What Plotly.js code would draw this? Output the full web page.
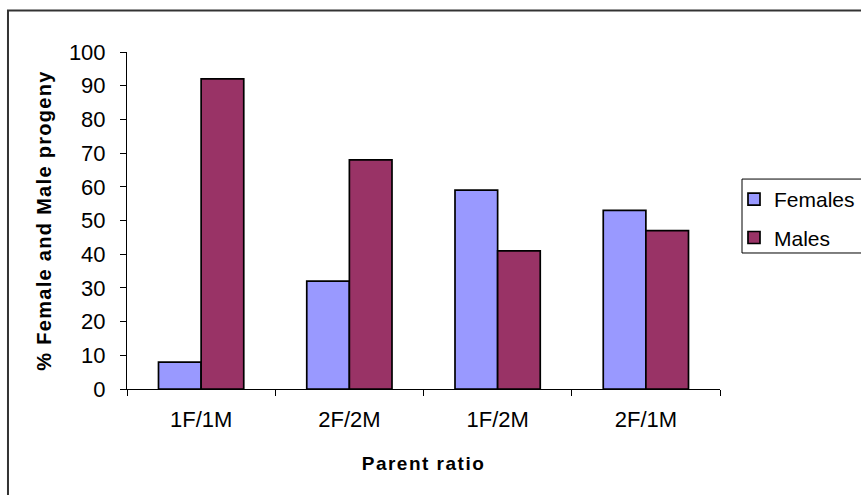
<!DOCTYPE html>
<html>
<head>
<meta charset="utf-8">
<script src="https://cdn.plot.ly/plotly-3.0.1.min.js"></script>
<style>
  html, body { margin: 0; padding: 0; background: #fff; }
  #chart { width: 861px; height: 495px; }
  /* slightly wider bold titles */
  #chart .g-xtitle text { letter-spacing: 1.5px; }
  #chart .g-ytitle text { letter-spacing: 1.3px; }
</style>
</head>
<body>
<div id="chart"></div>
<script>
// Offspring sex ratio by parent ratio
const categories = ["1F/1M", "2F/2M", "1F/2M", "2F/1M"];
const females = [8, 32, 59, 53];
const males = [92, 68, 41, 47];
const yTicks = [0, 10, 20, 30, 40, 50, 60, 70, 80, 90, 100];

const FONT = "Liberation Sans, Arial, sans-serif";

const traces = [
  {
    type: "bar",
    name: "Females",
    legendgroup: "f",
    x: categories,
    y: females,
    marker: { color: "#9999FF", line: { color: "#000", width: 1.7 } }
  },
  {
    type: "bar",
    name: "Males",
    legendgroup: "m",
    x: categories,
    y: males,
    marker: { color: "#993366", line: { color: "#000", width: 1.7 } }
  }
];

const layout = {
  width: 861,
  height: 495,
  margin: { l: 127, r: 141, t: 52, b: 106, pad: 0, autoexpand: false },
  paper_bgcolor: "#fff",
  plot_bgcolor: "#fff",
  font: { family: FONT, color: "#000", size: 22 },
  barmode: "group",
  bargap: 0.425,
  bargroupgap: 0,
  showlegend: true,
  legend: {
    x: 1.0236, y: 0.623, xanchor: "left", yanchor: "top",
    bgcolor: "rgba(0,0,0,0)", borderwidth: 0,
    font: { family: FONT, size: 21, color: "#000" },
    traceorder: "grouped",
    tracegroupgap: 8,
    itemwidth: 30
  },
  xaxis: {
    type: "category",
    showline: true, linecolor: "#000", linewidth: 1,
    ticks: "outside", tickson: "boundaries", ticklen: 6, tickcolor: "#000",
    ticklabelstandoff: 11,
    showgrid: false, zeroline: false,
    tickfont: { family: FONT, size: 22 },
    title: { text: "<b>Parent ratio</b>", font: { family: FONT, size: 19 }, standoff: 25 },
    automargin: false
  },
  yaxis: {
    range: [0, 100],
    tickvals: yTicks,
    showline: true, linecolor: "#000", linewidth: 1,
    ticks: "outside", ticklen: 6, tickcolor: "#000",
    ticklabelstandoff: 10,
    showgrid: false, zeroline: false,
    tickfont: { family: FONT, size: 22 },
    title: { text: "<b>% Female and Male progeny</b>", font: { family: FONT, size: 20 }, standoff: 11 },
    automargin: false
  },
  shapes: [
    // outer chart frame
    {
      type: "rect", xref: "paper", yref: "paper",
      x0: -0.2007, x1: 1.6, y0: -0.6, y1: 1.1231,
      line: { color: "#333", width: 2 }, fillcolor: "rgba(0,0,0,0)", layer: "below"
    },
    // legend frame
    {
      type: "rect", xref: "paper", yref: "paper",
      x0: 1.0371, x1: 1.6, y0: 0.4036, y1: 0.623,
      line: { color: "#000", width: 1 }, fillcolor: "#fff", layer: "above"
    }
  ]
};

Plotly.newPlot("chart", traces, layout, { displayModeBar: false, staticPlot: true });
</script>
</body>
</html>
